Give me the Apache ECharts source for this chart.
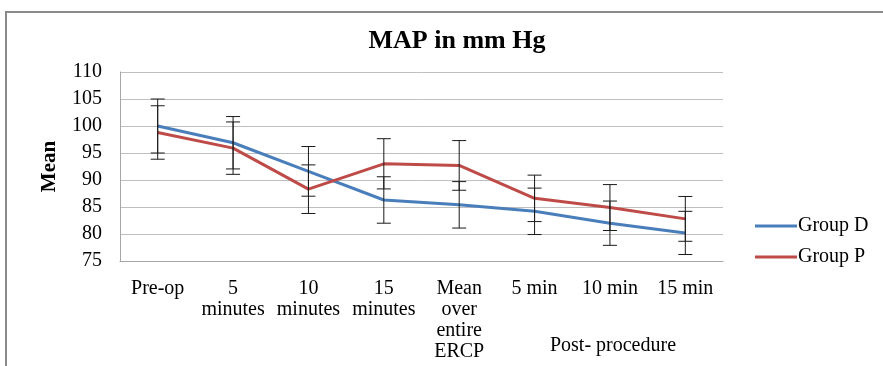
<!doctype html>
<html>
<head>
    <meta charset="UTF-8">
    <title>MAP in mm Hg</title>
    <script src="https://cdn.jsdelivr.net/npm/echarts@6/dist/echarts.min.js"></script>
    <style>
        html, body { margin: 0; padding: 0; background: #fff; }
        #main { width: 883px; height: 366px; }
    </style>
</head>
<body>
<div id="main"></div>
<script>
    var categories = ['Pre-op', '5\nminutes', '10\nminutes', '15\nminutes', 'Mean\nover\nentire\nERCP', '5 min', '10 min', '15 min'];
    var groupD = [100, 96.9, 91.6, 86.3, 85.4, 84.2, 82.0, 80.2];
    var groupP = [98.8, 95.9, 88.3, 93.0, 92.7, 86.6, 84.9, 82.8];
    // standard deviations
    var sdD = [5.0, 4.85, 4.6, 4.3, 4.3, 4.3, 4.1, 4.0];
    var sdP = [4.95, 4.85, 4.5, 4.65, 4.6, 4.3, 4.25, 4.15];
    var yTicks = [75, 80, 85, 90, 95, 100, 105, 110];

    var serif = 'Liberation Serif';

    function errorData(mean, sd) {
        return mean.map(function (m, i) {
            return [i, m - sd[i], m + sd[i]];
        });
    }

    function renderError(params, api) {
        var x = api.value(0);
        var lo = api.coord([x, api.value(1)]);
        var hi = api.coord([x, api.value(2)]);
        var w = 7;
        var st = { stroke: '#1a1a1a', lineWidth: 1 };
        return {
            type: 'group',
            children: [
                { type: 'line', shape: { x1: hi[0], y1: hi[1], x2: lo[0], y2: lo[1] }, style: st },
                { type: 'line', shape: { x1: hi[0] - w, y1: hi[1], x2: hi[0] + w, y2: hi[1] }, style: st },
                { type: 'line', shape: { x1: lo[0] - w, y1: lo[1], x2: lo[0] + w, y2: lo[1] }, style: st }
            ]
        };
    }

    var chart = echarts.init(document.getElementById('main'));

    chart.setOption({
        animation: false,
        backgroundColor: '#fff',
        title: {
            text: 'MAP in mm Hg',
            left: 452,
            textAlign: 'center',
            top: 23,
            textStyle: { fontFamily: serif, fontWeight: 'bold', fontSize: 26, color: '#000' }
        },
        legend: {
            orient: 'vertical',
            left: 750,
            top: 211,
            icon: 'rect',
            itemWidth: 42,
            itemHeight: 3,
            itemGap: 11,
            data: ['Group D', 'Group P'],
            textStyle: { fontFamily: serif, fontSize: 20, color: '#000', padding: [0, 0, 0, -4] }
        },
        grid: { left: 120, right: 160, top: 72, bottom: 105 },
        xAxis: {
            type: 'category',
            data: categories,
            boundaryGap: true,
            axisLine: { lineStyle: { color: '#a6a6a6' } },
            axisTick: { show: false },
            axisLabel: {
                interval: 0,
                hideOverlap: false,
                margin: 17,
                fontFamily: serif,
                fontSize: 20,
                lineHeight: 21,
                color: '#000'
            }
        },
        yAxis: {
            type: 'value',
            min: yTicks[0],
            max: yTicks[yTicks.length - 1],
            interval: 5,
            name: 'Mean',
            nameLocation: 'middle',
            nameGap: 60,
            nameTextStyle: { fontFamily: serif, fontWeight: 'bold', fontSize: 21, color: '#000' },
            axisLine: { show: true, lineStyle: { color: '#a6a6a6' } },
            axisTick: { show: false },
            splitLine: { lineStyle: { color: '#bfbfbf' } },
            axisLabel: { margin: 18, fontFamily: serif, fontSize: 20, color: '#000' }
        },
        graphic: [
            {
                type: 'rect',
                shape: { x: 6, y: 12, width: 1000, height: 1000 },
                style: { fill: 'none', stroke: '#8a8a8a', lineWidth: 2 },
                silent: true,
                z: -1
            },
            {
                type: 'text',
                x: 613,
                y: 346,
                style: {
                    text: 'Post- procedure',
                    fontFamily: serif,
                    fontSize: 20,
                    fill: '#000',
                    textAlign: 'center',
                    textVerticalAlign: 'middle'
                }
            }
        ],
        series: [
            {
                name: 'Group D',
                type: 'line',
                data: groupD,
                symbol: 'none',
                lineStyle: { color: '#4a7ebb', width: 3 },
                itemStyle: { color: '#4a7ebb' },
                z: 3
            },
            {
                name: 'Group P',
                type: 'line',
                data: groupP,
                symbol: 'none',
                lineStyle: { color: '#be4b48', width: 3 },
                itemStyle: { color: '#be4b48' },
                z: 3
            },
            {
                name: 'errD',
                type: 'custom',
                renderItem: renderError,
                data: errorData(groupD, sdD),
                z: 4
            },
            {
                name: 'errP',
                type: 'custom',
                renderItem: renderError,
                data: errorData(groupP, sdP),
                z: 4
            }
        ]
    });
</script>
</body>
</html>
